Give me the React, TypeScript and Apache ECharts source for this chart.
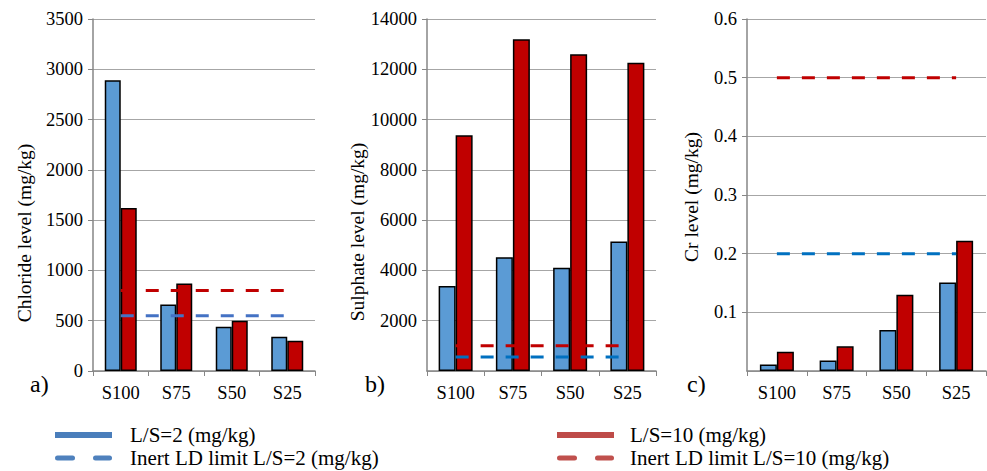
import React, { useEffect, useRef } from "react";
import * as echarts from "echarts";

const categories = ["S100", "S75", "S50", "S25"];

const chlorideLS2 = [2890, 660, 440, 340];
const chlorideLS10 = [1620, 870, 500, 300];
const chlorideLimitLS2 = 550;
const chlorideLimitLS10 = 800;

const sulphateLS2 = [3380, 4520, 4110, 5150];
const sulphateLS10 = [9380, 13190, 12600, 12260];
const sulphateLimitLS2 = 560;
const sulphateLimitLS10 = 1000;

const crLS2 = [0.011, 0.018, 0.07, 0.151];
const crLS10 = [0.033, 0.042, 0.13, 0.222];
const crLimitLS2 = 0.2;
const crLimitLS10 = 0.5;

const yTitles = ["Chloride level (mg/kg)", "Sulphate level (mg/kg)", "Cr level (mg/kg)"];
const panelLabels = ["a)", "b)", "c)"];
const legendNames = [
  "L/S=2 (mg/kg)",
  "L/S=10 (mg/kg)",
  "Inert LD limit L/S=2 (mg/kg)",
  "Inert LD limit L/S=10 (mg/kg)",
];

const FONT = "Liberation Serif";

export default function App() {
  const ref = useRef<HTMLDivElement>(null);

  useEffect(() => {
    if (!ref.current) return;
    const chart = echarts.init(ref.current, undefined, { renderer: "svg" });

    const panels = [
      { left: 93, width: 222, max: 3500, interval: 500, showMin: true, barW: 16,
        s2: chlorideLS2, s10: chlorideLS10, l2: chlorideLimitLS2, l10: chlorideLimitLS10,
        dash2: "#4472C4", dash10: "#C00000", titleX: 24, titleY: 233, labelX: 30 },
      { left: 427, width: 229, max: 14000, interval: 2000, showMin: false, barW: 17,
        s2: sulphateLS2, s10: sulphateLS10, l2: sulphateLimitLS2, l10: sulphateLimitLS10,
        dash2: "#0070C0", dash10: "#C00000", titleX: 357, titleY: 232, labelX: 365 },
      { left: 747, width: 239, max: 0.6, interval: 0.1, showMin: false, barW: 17,
        s2: crLS2, s10: crLS10, l2: crLimitLS2, l10: crLimitLS10,
        dash2: "#0070C0", dash10: "#C00000", titleX: 691, titleY: 197, labelX: 687 },
    ];

    const grid = panels.map((p) => ({ left: p.left, width: p.width, top: 19, height: 352 }));

    const xAxis = panels.map((p, i) => ({
      type: "category",
      gridIndex: i,
      data: categories,
      axisLine: { lineStyle: { color: "#868686", width: 1.5 } },
      axisTick: { show: true, length: 5, lineStyle: { color: "#868686", width: 1 } },
      axisLabel: { color: "#000", fontFamily: FONT, fontSize: 18.5, margin: 12 },
      splitLine: { show: false },
    }));

    const yAxis = panels.map((p, i) => ({
      type: "value",
      gridIndex: i,
      min: 0,
      max: p.max,
      interval: p.interval,
      axisLine: { show: true, lineStyle: { color: "#868686", width: 1.5 } },
      axisTick: { show: true, length: 5, lineStyle: { color: "#868686", width: 1 } },
      axisLabel: {
        color: "#000",
        fontFamily: FONT,
        fontSize: 18.5,
        margin: 10,
        showMinLabel: p.showMin,
        formatter: (v: number) => (p.max < 1 ? v.toFixed(1) : String(v)),
      },
      splitLine: { show: true, lineStyle: { color: "#A6A6A6", width: 1 } },
    }));

    const series: any[] = [];
    panels.forEach((p, i) => {
      series.push({
        name: legendNames[0], type: "bar", xAxisIndex: i, yAxisIndex: i,
        data: p.s2, barWidth: p.barW, barGap: "0%",
        itemStyle: { color: "#5B9BD5", borderColor: "#000", borderWidth: 1.5 },
      });
      series.push({
        name: legendNames[1], type: "bar", xAxisIndex: i, yAxisIndex: i,
        data: p.s10, barWidth: p.barW, barGap: "0%",
        itemStyle: { color: "#C00000", borderColor: "#000", borderWidth: 1.5 },
      });
      series.push({
        name: legendNames[2], type: "line", xAxisIndex: i, yAxisIndex: i, z: 4,
        data: categories.map(() => p.l2), symbol: "none",
        lineStyle: { color: p.dash2, width: 3, type: [13, 12] },
      });
      series.push({
        name: legendNames[3], type: "line", xAxisIndex: i, yAxisIndex: i, z: 4,
        data: categories.map(() => p.l10), symbol: "none",
        lineStyle: { color: p.dash10, width: 3, type: [13, 12] },
      });
    });

    const graphic: any[] = [];
    panels.forEach((p, i) => {
      graphic.push({
        type: "text", x: p.titleX, y: p.titleY, rotation: Math.PI / 2,
        style: { text: yTitles[i], fontFamily: FONT, fontSize: 19.5, fill: "#000", align: "center", verticalAlign: "middle" },
      });
      graphic.push({
        type: "text", x: p.labelX, y: 384,
        style: { text: panelLabels[i], fontFamily: FONT, fontSize: 24, fill: "#000", align: "left", verticalAlign: "middle" },
      });
    });

    // legend
    const legendRows = [
      { x: 55, y: 435, color: "#4A7EBB", dashed: false, text: legendNames[0], tx: 130 },
      { x: 557, y: 435, color: "#BE4B48", dashed: false, text: legendNames[1], tx: 630 },
      { x: 55, y: 458, color: "#4F81BD", dashed: true, text: legendNames[2], tx: 130 },
      { x: 557, y: 458, color: "#C0504D", dashed: true, text: legendNames[3], tx: 630 },
    ];
    legendRows.forEach((r) => {
      if (!r.dashed) {
        graphic.push({ type: "rect", shape: { x: r.x, y: r.y - 3, width: 57, height: 6 }, style: { fill: r.color } });
      } else {
        graphic.push({ type: "rect", shape: { x: r.x, y: r.y - 2.5, width: 20, height: 5, r: 2.5 }, style: { fill: r.color } });
        graphic.push({ type: "rect", shape: { x: r.x + 38, y: r.y - 2.5, width: 19, height: 5, r: 2.5 }, style: { fill: r.color } });
      }
      graphic.push({
        type: "text", x: r.tx, y: r.y,
        style: { text: r.text, fontFamily: FONT, fontSize: 21, fill: "#000", align: "left", verticalAlign: "middle" },
      });
    });

    chart.setOption({
      animation: false,
      backgroundColor: "#fff",
      grid,
      xAxis,
      yAxis,
      series,
      graphic,
    });

    return () => chart.dispose();
  }, []);

  return (
    <div
      ref={ref}
      style={{ position: "absolute", left: 0, top: 0, width: 987, height: 471 }}
    />
  );
}
